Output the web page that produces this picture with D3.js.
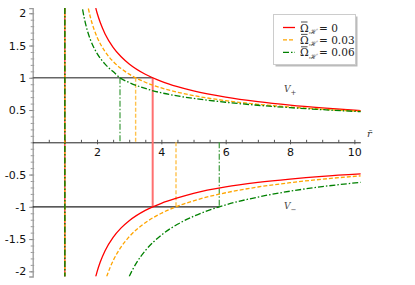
<!DOCTYPE html>
<html><head><meta charset="utf-8">
<script src="https://cdn.jsdelivr.net/npm/d3@7"></script>
<style>body{margin:0;background:#fff}svg{display:block}</style>
</head><body>
<svg id="c" width="415" height="285"></svg>
<script>
// ---- data ----
const omegaLabels = ["0", "0.03", "0.06"];
const colors = ["#ff0000", "#ffa500", "#008000"];
const dashes = [null, "4,2", "6,2,1.5,2"];

const rRedPlus = [1.96,2.0,2.1,2.25,2.5,2.75,3,3.5,4,4.5,5,6,7,8,9,10.2];
const vRedPlus = [2.081,2.008,1.856,1.680,1.473,1.326,1.215,1.055,0.945,0.862,0.796,0.699,0.629,0.575,0.532,0.490];
const rOrangePlus = [1.73,1.8,1.9,2.0,2.25,2.5,2.75,3,3.5,4,4.5,5,6,7,8,9,10.2];
const vOrangePlus = [2.074,1.926,1.761,1.633,1.405,1.253,1.142,1.056,0.931,0.843,0.776,0.724,0.646,0.589,0.547,0.513,0.480];
const rGreenPlus = [1.551,1.6,1.7,1.8,2.0,2.25,2.5,2.714,3,3.5,4,4.5,5,6,7,8,9,10.2];
const vGreenPlus = [2.062,1.932,1.730,1.583,1.378,1.211,1.096,1.0,0.927,0.834,0.767,0.718,0.681,0.621,0.574,0.537,0.506,0.475];

const rRedMinus = [1.96,2.0,2.1,2.25,2.5,2.75,3,3.5,4,4.5,5,6,7,8,9,10.2];
const vRedMinus = [-2.081,-2.008,-1.856,-1.680,-1.473,-1.326,-1.215,-1.055,-0.945,-0.862,-0.790,-0.690,-0.622,-0.570,-0.528,-0.490];
const rOrangeMinus = [2.30,2.4,2.5,2.75,3,3.5,4,4.455,5,6,7,8,9,10.2];
const vOrangeMinus = [-2.081,-1.947,-1.835,-1.621,-1.464,-1.247,-1.100,-1.0,-0.907,-0.782,-0.693,-0.626,-0.572,-0.520];
const rGreenMinus = [3.0,3.1,3.25,3.5,4,4.5,5,5.8,6,7,8,9,10.2];
const vGreenMinus = [-2.081,-1.979,-1.850,-1.680,-1.438,-1.271,-1.147,-1.0,-0.970,-0.849,-0.758,-0.687,-0.620];

const crossPlus = [3.73, 3.20, 2.714];   // where V+ = 1
const crossMinus = [3.73, 4.455, 5.80];  // where V- = -1
const horizonR = 1;

const yMajor = [-2,-1.5,-1,-0.5,0.5,1,1.5,2];
const xMajor = [2,4,6,8,10];

// ---- scales ----
const svg = d3.select("#c");
const x = d3.scaleLinear().domain([0, 10.2]).range([32.7, 360.8]);
const y = d3.scaleLinear().domain([-2.08, 2.08]).range([276.5, 8.1]);

svg.append("defs").append("clipPath").attr("id","clip")
  .append("rect").attr("x", x(0)).attr("y", y(2.08)).attr("width", x(10.2)-x(0)).attr("height", y(-2.08)-y(2.08));

// y axis (gray) with minor ticks
const yMinor = d3.range(-20, 21).map(d => d/10).filter(d => Math.abs(d) <= 2.08);
svg.append("g").attr("transform", `translate(${x(0)},0)`)
  .call(d3.axisLeft(y).tickValues(yMinor).tickSize(2).tickFormat(""))
  .call(g => g.select(".domain").remove())
  .call(g => g.selectAll("line").attr("stroke","#999"));
svg.append("g").attr("transform", `translate(${x(0)},0)`)
  .call(d3.axisRight(y).tickValues(yMinor).tickSize(1.5).tickFormat(""))
  .call(g => g.select(".domain").remove())
  .call(g => g.selectAll("line").attr("stroke","#999"));
svg.append("g").attr("transform", `translate(${x(0)},0)`)
  .call(d3.axisLeft(y).tickValues(yMajor).tickSize(3.5).tickPadding(3).tickFormat(d => String(d)))
  .call(g => g.select(".domain").attr("stroke","#999").attr("stroke-width",1.3))
  .call(g => g.selectAll("line").attr("stroke","#888"))
  .call(g => g.selectAll("text").attr("font-family","DejaVu Sans").attr("font-size", 11).attr("fill","#111"));

// x axis
const xMinor = d3.range(1, 21).map(d => d/2);
svg.append("g").attr("transform", `translate(0,${y(0)})`)
  .call(d3.axisTop(x).tickValues(xMinor).tickSize(2.5).tickFormat(""))
  .call(g => g.select(".domain").remove())
  .call(g => g.selectAll("line").attr("stroke","#555"));
svg.append("g").attr("transform", `translate(0,${y(0)})`)
  .call(d3.axisBottom(x).tickValues(xMajor).tickSize(2).tickPadding(4).tickFormat(d => String(d)))
  .call(g => g.select(".domain").attr("d", `M${x(0)},0.5H${x(10.2)}`).attr("stroke","#222"))
  .call(g => g.selectAll("line").attr("stroke","#555"))
  .call(g => g.selectAll("text").attr("font-family","DejaVu Sans").attr("font-size", 11).attr("fill","#111"));

svg.append("text").attr("x", 367).attr("y", 137).attr("font-family","DejaVu Serif").attr("font-style","italic")
  .attr("font-size", 10).attr("fill","#333").text("r\u0304");

// horizontal reference lines
svg.append("line").attr("x1", x(0)).attr("x2", x(d3.max(crossPlus))).attr("y1", y(1)).attr("y2", y(1))
  .attr("stroke","#666").attr("stroke-width",1.5);
svg.append("line").attr("x1", x(0)).attr("x2", x(d3.max(crossMinus))).attr("y1", y(-1)).attr("y2", y(-1))
  .attr("stroke","#222").attr("stroke-width",1.2);

// vertical drop lines
const dropColors = ["#ff7070", "#ffc24d", "#3c9a3c"];
const dropW = [2, 1.4, 1.2];
crossPlus.forEach((r, i) => {
  svg.append("line").attr("x1", x(r)).attr("x2", x(r))
    .attr("y1", y(1)).attr("y2", i === 0 ? y(-1) : y(0))
    .attr("stroke", dropColors[i]).attr("stroke-width", dropW[i])
    .attr("stroke-dasharray", dashes[i]);
});
crossMinus.forEach((r, i) => {
  if (i === 0) return;
  svg.append("line").attr("x1", x(r)).attr("x2", x(r))
    .attr("y1", y(0)).attr("y2", y(-1))
    .attr("stroke", dropColors[i]).attr("stroke-width", dropW[i])
    .attr("stroke-dasharray", dashes[i]);
});

// horizon vertical line r = 1 (all three series overlapping)
[0,1,2].forEach(i => {
  svg.append("line").attr("x1", x(horizonR)).attr("x2", x(horizonR))
    .attr("y1", y(2.08)).attr("y2", y(-2.08))
    .attr("stroke", colors[i]).attr("stroke-width", i === 2 ? 1.4 : 1.1)
    .attr("stroke-dasharray", dashes[i]);
});

// curves
const line = d3.line().x(d => x(d[0])).y(d => y(d[1])).curve(d3.curveMonotoneX);
const series = [
  [rRedPlus, vRedPlus, 0], [rOrangePlus, vOrangePlus, 1], [rGreenPlus, vGreenPlus, 2],
  [rRedMinus, vRedMinus, 0], [rOrangeMinus, vOrangeMinus, 1], [rGreenMinus, vGreenMinus, 2]
];
const cg = svg.append("g").attr("clip-path","url(#clip)");
series.forEach(([rs, vs, i]) => {
  cg.append("path").datum(rs.map((r, k) => [r, vs[k]]))
    .attr("d", line).attr("fill","none")
    .attr("stroke", colors[i]).attr("stroke-width", 1.3)
    .attr("stroke-dasharray", dashes[i]);
});

// V labels
function vLabel(px, py, sub) {
  const t = svg.append("text").attr("x", px).attr("y", py).attr("font-family","DejaVu Serif")
    .attr("font-style","italic").attr("font-size", 9).attr("fill","#444");
  t.append("tspan").text("V");
  t.append("tspan").attr("dy", 2.5).attr("font-size", 7).attr("font-style","normal").text(sub);
}
vLabel(284, 92, "+");
vLabel(284, 209, "\u2212");

// legend
const lg = svg.append("g");
lg.append("rect").attr("x", 275.5).attr("y", 16.5).attr("width", 82).attr("height", 50).attr("fill","#bbb");
lg.append("rect").attr("x", 273.5).attr("y", 14.5).attr("width", 82).attr("height", 50)
  .attr("fill","#fff").attr("stroke","#ccc");
omegaLabels.forEach((lab, i) => {
  const yy = 27.5 + i * 12.4;
  lg.append("line").attr("x1", 283).attr("x2", 295).attr("y1", yy).attr("y2", yy)
    .attr("stroke", colors[i]).attr("stroke-width", 1.3).attr("stroke-dasharray", dashes[i]);
  const t = lg.append("text").attr("x", 300).attr("y", yy + 4).attr("font-family","DejaVu Serif")
    .attr("font-size", 10.5).attr("fill","#222");
  t.append("tspan").text("\u03A9");
  t.append("tspan").attr("dy", 2.5).attr("font-size", 7).attr("font-style","italic").text("\u210B");
  t.append("tspan").attr("dy", -2.5).text(" = " + lab);
  // bar over Omega
  lg.append("line").attr("x1", 301).attr("x2", 307.5).attr("y1", yy - 5.5).attr("y2", yy - 5.5)
    .attr("stroke", "#222").attr("stroke-width", 0.8);
});
</script>
</body></html>
